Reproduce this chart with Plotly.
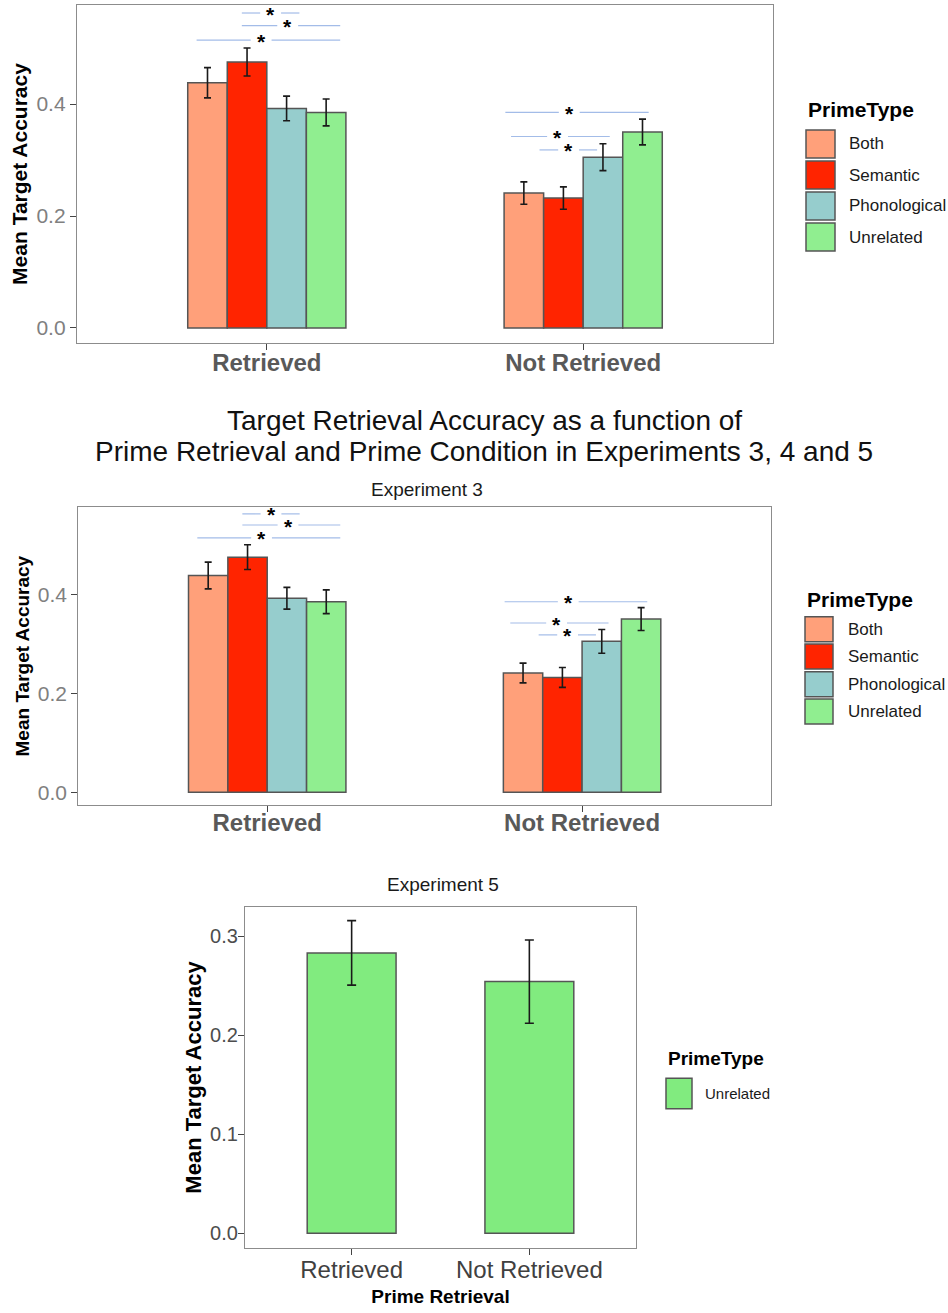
import plotly.graph_objects as go

W, H = 948, 1313
FONT = "Liberation Sans, Arial, sans-serif"

# ---------------- data ----------------
retrieval = ["Retrieved", "Not Retrieved"]
prime_types = ["Both", "Semantic", "Phonological", "Unrelated"]
prime_colors = ["#FFA07A", "#FF2400", "#96CDCD", "#90EE90"]

# Experiment 3: mean target accuracy (Retrieved, Not Retrieved)
exp3_both = [0.438, 0.241]
exp3_semantic = [0.475, 0.232]
exp3_phonological = [0.392, 0.305]
exp3_unrelated = [0.385, 0.350]
# standard errors
exp3_both_se = [0.027, 0.020]
exp3_semantic_se = [0.025, 0.020]
exp3_phonological_se = [0.022, 0.024]
exp3_unrelated_se = [0.024, 0.023]

# Experiment 5 (Unrelated only)
exp5_unrelated = [0.283, 0.254]
exp5_unrelated_se = [0.0325, 0.042]
exp5_color = "#81EB7F"

# significance brackets (category index, start offset, end offset, height, star offset)
sig_cat = [0, 0, 0, 1, 1, 1]
sig_x0 = [-0.079, -0.079, -0.222, -0.246, -0.228, -0.138]
sig_x1 = [0.103, 0.232, 0.232, 0.207, 0.084, 0.044]
sig_y = [0.5625, 0.540, 0.514, 0.385, 0.342, 0.318]
sig_star = [0.012, 0.066, -0.018, -0.044, -0.081, -0.046]
STAR_GAP = 0.033

y_ticks_exp3 = [0.0, 0.2, 0.4]
y_ticks_exp5 = [0.0, 0.1, 0.2, 0.3]

exp3_means = [exp3_both, exp3_semantic, exp3_phonological, exp3_unrelated]
exp3_ses = [exp3_both_se, exp3_semantic_se, exp3_phonological_se, exp3_unrelated_se]


def px_x(p):
    return p / W


def px_y(p):
    return 1 - p / H


fig = go.Figure()

# panel geometry (pixels): (left, right, top, bottom)
panels = {
    "1": (77, 773, 5, 343),
    "2": (78.3, 771, 507.3, 805),
    "3": (245, 636, 906.7, 1248.3),
}
yranges = {"1": [-0.0268, 0.5768], "2": [-0.0257, 0.5758], "3": [-0.0151, 0.3296]}

xcat = [0, 1]

# panels 1 and 2: grouped bars
for pk in ["1", "2"]:
    xa = "x" if pk == "1" else "x" + pk
    ya = "y" if pk == "1" else "y" + pk
    for name, col, m, se in zip(prime_types, prime_colors, exp3_means, exp3_ses):
        fig.add_trace(go.Bar(
            x=xcat, y=m, name=name, xaxis=xa, yaxis=ya,
            marker=dict(color=col, line=dict(color="#555555", width=1.5)),
            error_y=dict(type="data", array=se, color="#1a1a1a", thickness=1.6, width=3.5),
            showlegend=False, offsetgroup=name,
        ))

# panel 3
fig.add_trace(go.Bar(
    x=xcat, y=exp5_unrelated, name="Unrelated", xaxis="x3", yaxis="y3",
    marker=dict(color=exp5_color, line=dict(color="#555555", width=1.5)),
    error_y=dict(type="data", array=exp5_unrelated_se, color="#1a1a1a", thickness=1.6, width=4.5),
    showlegend=False,
))

shapes = []
annotations = []

# significance brackets in panels 1 and 2
for pk in ["1", "2"]:
    xr = "x" if pk == "1" else "x" + pk
    yr = "y" if pk == "1" else "y" + pk
    for c, a, b, yy, s in zip(sig_cat, sig_x0, sig_x1, sig_y, sig_star):
        for u0, u1 in [(a, s - STAR_GAP), (s + STAR_GAP, b)]:
            shapes.append(dict(type="line", xref=xr, yref=yr, x0=c + u0, x1=c + u1, y0=yy, y1=yy,
                               line=dict(color="#A3BCE8", width=1.2)))
        annotations.append(dict(xref=xr, yref=yr, x=c + s, y=yy, text="*", showarrow=False,
                                font=dict(family=FONT, size=21, color="black", weight="bold"),
                                xanchor="center", yanchor="middle", yshift=-1))

common_axis = dict(showgrid=False, zeroline=False, showline=True, mirror=True,
                   linecolor="#8c8c8c", linewidth=1.3, ticks="outside", ticklen=6,
                   tickcolor="#444444", tickwidth=1)

layout = dict(width=W, height=H, margin=dict(l=0, r=0, t=0, b=0),
              paper_bgcolor="white", plot_bgcolor="white",
              barmode="group", bargap=0.5, bargroupgap=0, showlegend=False,
              font=dict(family=FONT))

x_standoff = {"1": -8, "2": -10, "3": -6}
for pk, (l, r, t, b) in panels.items():
    xk = "xaxis" if pk == "1" else "xaxis" + pk
    yk = "yaxis" if pk == "1" else "yaxis" + pk
    anchor_x = "y" if pk == "1" else "y" + pk
    anchor_y = "x" if pk == "1" else "x" + pk
    if pk in ("1", "2"):
        xt = dict(tickfont=dict(family=FONT, size=24, color="#595959", weight="bold"))
        yt = dict(tickfont=dict(family=FONT, size=21, color="#808080"), tickvals=y_ticks_exp3)
        ysize = 21 if pk == "1" else 19
        ytitle = dict(text="Mean Target Accuracy", font=dict(family=FONT, size=ysize, color="black", weight="bold"),
                      standoff=3)
    else:
        xt = dict(tickfont=dict(family=FONT, size=24, color="#404040"),
                  title=dict(text="Prime Retrieval", font=dict(family=FONT, size=19, color="black", weight="bold"),
                             standoff=7))
        yt = dict(tickfont=dict(family=FONT, size=20, color="#4d4d4d"), tickvals=y_ticks_exp5,
                  ticklabelstandoff=-4)
        ytitle = dict(text="Mean Target Accuracy", font=dict(family=FONT, size=22, color="black", weight="bold"),
                      standoff=2)
    layout[xk] = dict(domain=[px_x(l), px_x(r)], anchor=anchor_x, range=[-0.6, 1.6],
                      tickvals=xcat, ticktext=retrieval, ticklabelstandoff=x_standoff[pk],
                      **common_axis, **xt)
    layout[yk] = dict(domain=[px_y(b), px_y(t)], anchor=anchor_y, range=yranges[pk],
                      tickformat=".1f", title=ytitle, **common_axis, **yt)

# titles
annotations.append(dict(xref="paper", yref="paper", x=px_x(484), y=px_y(420.5),
                        text="Target Retrieval Accuracy as a function of", showarrow=False,
                        font=dict(family=FONT, size=28, color="#111111"), xanchor="center", yanchor="middle"))
annotations.append(dict(xref="paper", yref="paper", x=px_x(484), y=px_y(451.5),
                        text="Prime Retrieval and Prime Condition in Experiments 3, 4 and 5", showarrow=False,
                        font=dict(family=FONT, size=28, color="#111111"), xanchor="center", yanchor="middle"))
annotations.append(dict(xref="paper", yref="paper", x=px_x(427), y=px_y(489.7),
                        text="Experiment 3", showarrow=False,
                        font=dict(family=FONT, size=19, color="#1a1a1a"), xanchor="center", yanchor="middle"))
annotations.append(dict(xref="paper", yref="paper", x=px_x(443), y=px_y(884),
                        text="Experiment 5", showarrow=False,
                        font=dict(family=FONT, size=19, color="#1a1a1a"), xanchor="center", yanchor="middle"))


# manual legends (ggplot-style key boxes)
def add_legend(title_x, title_y, title_size, key_x0, key_x1, key_tops, key_h, label_x, label_size,
               labels, cols):
    annotations.append(dict(xref="paper", yref="paper", x=px_x(title_x), y=px_y(title_y), text="PrimeType",
                            showarrow=False, xanchor="left", yanchor="middle",
                            font=dict(family=FONT, size=title_size, color="black", weight="bold")))
    for top, lab, col in zip(key_tops, labels, cols):
        shapes.append(dict(type="rect", xref="paper", yref="paper",
                           x0=px_x(key_x0), x1=px_x(key_x1), y0=px_y(top + key_h), y1=px_y(top),
                           fillcolor=col, line=dict(color="#555555", width=1.5)))
        annotations.append(dict(xref="paper", yref="paper", x=px_x(label_x), y=px_y(top + key_h / 2),
                                text=lab, showarrow=False, xanchor="left", yanchor="middle",
                                font=dict(family=FONT, size=label_size, color="#1a1a1a")))


add_legend(806, 109.3, 21, 806, 835, [130, 161, 192, 223], 28, 847, 17, prime_types, prime_colors)
add_legend(805, 599.3, 21, 805, 833, [616.7, 644, 671.7, 699], 25, 846, 17, prime_types, prime_colors)
add_legend(666, 1058.3, 19, 666, 692, [1078.3], 30.5, 702.7, 15, ["Unrelated"], [exp5_color])

layout["shapes"] = shapes
layout["annotations"] = annotations
fig.update_layout(**layout)

fig.write_html("out.html")
